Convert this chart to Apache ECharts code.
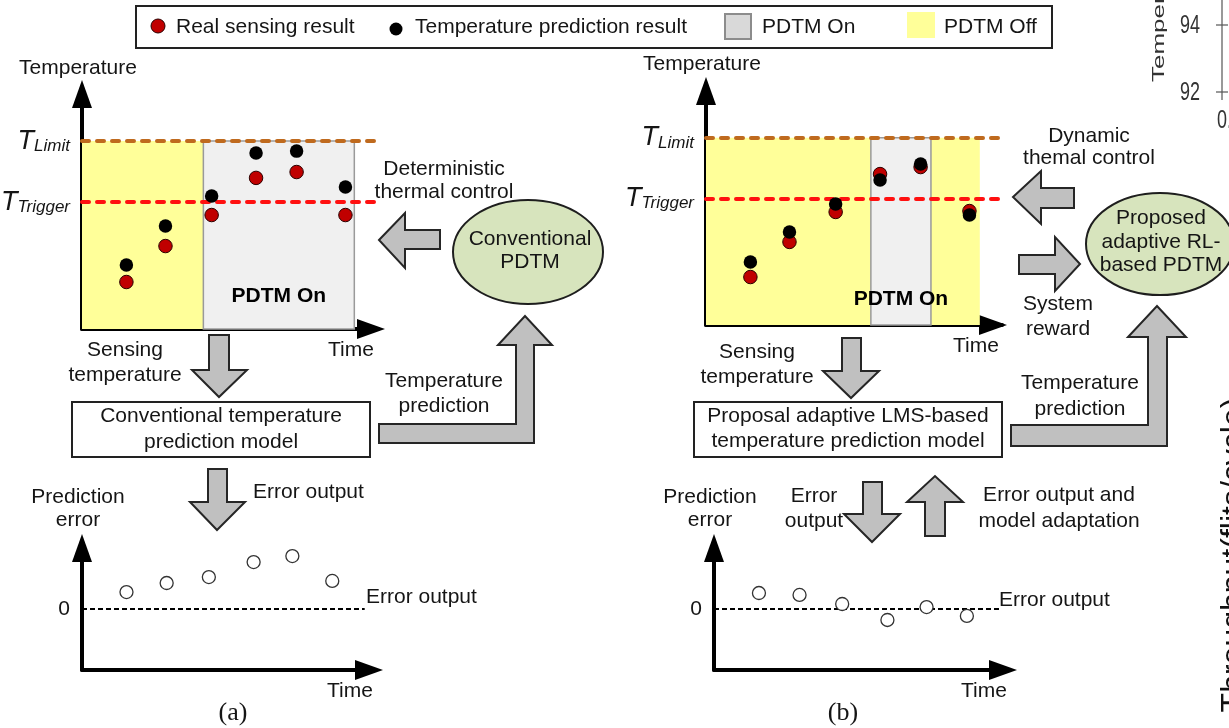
<!DOCTYPE html>
<html>
<head>
<meta charset="utf-8">
<script src="https://cdn.jsdelivr.net/npm/echarts@6.0.0/dist/echarts.min.js"></script>
<style>
  html, body { margin: 0; padding: 0; background: #fff; }
  #chart { width: 1229px; height: 728px; }
</style>
</head>
<body>
<div id="chart"></div>
<script>
  // sample instants on the time axis (0..10) of the temperature plots
  const sampleTimes = [1.5, 2.82, 4.38, 5.88, 7.25, 8.9];
  // (a) conventional model
  const realSensingA = [20, 35.3, 48.5, 64.3, 66.8, 48.5];
  const predictionA = [27.2, 43.8, 56.6, 74.9, 75.7, 60.4];
  // (b) adaptive LMS model
  const realSensingB = [20.5, 35.5, 48.3, 64.5, 67.5, 48.7];
  const predictionB = [26.9, 39.7, 51.7, 62, 68.8, 47];

  const T_LIMIT = 80;
  const T_TRIGGER = 54;

  // PDTM state intervals [from, to] on the time axis
  const pdtmOffA = [[0, 4.1]];
  const pdtmOnA = [[4.1, 9.2]];
  const pdtmOffB = [[0, 5.57], [7.6, 9.25]];
  const pdtmOnB = [[5.57, 7.6]];

  // prediction error plots
  const errorTimes = [1.55, 2.95, 4.42, 5.98, 7.33, 8.72];
  const errorA = [1.39, 2.13, 2.62, 3.85, 4.34, 2.3];
  const errorB = [1.31, 1.15, 0.41, -0.9, 0.16, -0.57];
  const ZERO_END = 9.85;

  const FONT = '"Liberation Sans", Arial, sans-serif';
  const INK = '#151515';

  const chart = echarts.init(document.getElementById('chart'));

  const pairs = (xs, ys) => xs.map((x, i) => [x, ys[i]]);

  const arrowLine = (offset) => ({
    show: true,
    onZero: false,
    lineStyle: { color: '#000', width: 4 },
    symbol: ['none', 'triangle'],
    symbolSize: [20, 28],
    symbolOffset: [0, offset],
  });

  const timeAxis = (gridIndex, offset) => ({
    type: 'value',
    gridIndex,
    min: 0,
    max: 10,
    axisLine: arrowLine(offset),
    axisTick: { show: false },
    axisLabel: { show: false },
    splitLine: { show: false },
  });

  const limitLabel = (v) => (v === T_LIMIT ? '{t|T}{s|Limit}' : '{t|T}{s|Trigger}');

  const tempAxis = (gridIndex, gap) => ({
    type: 'value',
    gridIndex,
    min: 0,
    max: 100,
    name: 'Temperature',
    nameLocation: 'end',
    nameGap: gap,
    nameTextStyle: { color: INK, fontSize: 21, fontFamily: FONT, padding: [0, 8, 0, 0] },
    axisLine: arrowLine(0),
    axisTick: { show: false },
    splitLine: { show: false },
    axisLabel: {
      show: true,
      customValues: [T_TRIGGER, T_LIMIT],
      margin: 12,
      formatter: limitLabel,
      rich: {
        t: { fontSize: 27, fontStyle: 'italic', fontFamily: FONT, color: INK, verticalAlign: 'bottom' },
        s: { fontSize: 17, fontStyle: 'italic', fontFamily: FONT, color: INK, verticalAlign: 'bottom' },
      },
    },
  });

  const errAxis = (gridIndex) => ({
    type: 'value',
    gridIndex,
    min: -5,
    max: 5,
    interval: 5,
    name: 'Prediction\nerror',
    nameLocation: 'end',
    nameGap: 16,
    nameTextStyle: { color: INK, fontSize: 21, lineHeight: 23, fontFamily: FONT, padding: [0, 8, 0, 0] },
    axisLine: arrowLine(0),
    axisTick: { show: false },
    splitLine: { show: false },
    axisLabel: { show: true, customValues: [0], margin: 12, color: INK, fontSize: 21, fontFamily: FONT },
  });

  const offStyle = { color: '#ffff99' };
  const onStyle = { color: '#f0f0f0', borderColor: '#9a9a9a', borderWidth: 1.5 };

  const bands = (offs, ons, labelGap) => ({
    silent: true,
    z: 1,
    data: [
      ...offs.map(([a, b]) => [
        { xAxis: a, yAxis: 0, itemStyle: offStyle, label: { show: false } },
        { xAxis: b, yAxis: T_LIMIT },
      ]),
      ...ons.map(([a, b]) => [
        {
          name: 'PDTM On',
          xAxis: a,
          yAxis: 0,
          itemStyle: onStyle,
          label: {
            show: true,
            position: 'insideBottom',
            distance: labelGap,
            color: '#000',
            fontWeight: 'bold',
            fontSize: 21,
            fontFamily: FONT,
          },
        },
        { xAxis: b, yAxis: T_LIMIT },
      ]),
    ],
  });

  const limitLines = {
    silent: true,
    z: 1.5,
    symbol: ['none', 'none'],
    label: { show: false },
    data: [
      { yAxis: T_LIMIT, lineStyle: { color: '#bf6a1e', width: 4, type: [7, 8], cap: 'round' } },
      { yAxis: T_TRIGGER, lineStyle: { color: '#ff1010', width: 4, type: [7, 8], cap: 'round' } },
    ],
  };

  const zeroLine = {
    silent: true,
    z: 1.5,
    symbol: ['none', 'none'],
    label: { show: false },
    lineStyle: { color: '#000', width: 2, type: [5, 3] },
    data: [[{ coord: [0, 0] }, { coord: [ZERO_END, 0] }]],
  };

  const realStyle = { color: '#c00000', borderColor: '#2a0000', borderWidth: 1, opacity: 1 };
  const predStyle = { color: '#000', opacity: 1 };
  const errStyle = { color: '#fff', borderColor: '#333', borderWidth: 1.3, opacity: 1 };

  const txt = (text, x, y, extra = {}) => ({
    type: 'text',
    z: 50,
    style: Object.assign(
      { text, x, y, fill: INK, font: `21px ${FONT}`, align: 'center', verticalAlign: 'middle', lineHeight: 25 },
      extra,
    ),
  });

  const blockArrow = (points) => ({
    type: 'polygon',
    z: 40,
    shape: { points },
    style: { fill: '#c0c0c0', stroke: '#262626', lineWidth: 2 },
  });

  const box = (x, y, width, height) => ({
    type: 'rect',
    z: 40,
    shape: { x, y, width, height },
    style: { fill: '#fff', stroke: '#222', lineWidth: 2 },
  });

  const ellipse = (cx, cy, rx, ry) => ({
    type: 'ellipse',
    z: 40,
    shape: { cx, cy, rx, ry },
    style: { fill: '#d7e4bd', stroke: '#1e1e1e', lineWidth: 2 },
  });

  const graphics = [
    // legend
    { type: 'rect', z: 40, shape: { x: 136, y: 6, width: 916, height: 42 }, style: { fill: '#fff', stroke: '#222', lineWidth: 2 } },
    { type: 'circle', z: 45, shape: { cx: 158, cy: 26, r: 7 }, style: { fill: '#c00000', stroke: '#2a0000', lineWidth: 1 } },
    txt('Real sensing result', 176, 27, { align: 'left' }),
    { type: 'circle', z: 45, shape: { cx: 396, cy: 29, r: 6.5 }, style: { fill: '#000' } },
    txt('Temperature prediction result', 415, 27, { align: 'left' }),
    { type: 'rect', z: 45, shape: { x: 725, y: 14, width: 26, height: 25 }, style: { fill: '#d9d9d9', stroke: '#8c8c8c', lineWidth: 2 } },
    txt('PDTM On', 762, 27, { align: 'left' }),
    { type: 'rect', z: 45, shape: { x: 907, y: 12, width: 28, height: 26 }, style: { fill: '#ffff99' } },
    txt('PDTM Off', 944, 27, { align: 'left' }),

    // panel (a)
    txt('Deterministic\nthermal control', 444, 181, { lineHeight: 23 }),
    blockArrow([[379, 240], [405, 213], [405, 230], [440, 230], [440, 249], [405, 249], [405, 268]]),
    ellipse(528, 252, 75, 52),
    txt('Conventional\nPDTM', 530, 251, { lineHeight: 23 }),
    txt('Time', 351, 350),
    txt('Sensing\ntemperature', 125, 363),
    blockArrow([[209, 335], [229, 335], [229, 370], [247, 370], [219, 397], [192, 370], [209, 370]]),
    box(72, 402, 298, 55),
    txt('Conventional temperature\nprediction model', 221, 429, { lineHeight: 26 }),
    blockArrow([[379, 424], [516, 424], [516, 345], [498, 345], [525, 316], [552, 345], [534, 345], [534, 443], [379, 443]]),
    txt('Temperature\nprediction', 444, 394),
    blockArrow([[208, 469], [227, 469], [227, 502], [245, 502], [217, 530], [190, 502], [208, 502]]),
    txt('Error output', 253, 492, { align: 'left' }),
    txt('Error output', 366, 597, { align: 'left' }),
    txt('Time', 350, 691),
    txt('(a)', 233, 713, { font: `26px "Liberation Serif", "Times New Roman", serif` }),

    // panel (b)
    txt('Dynamic\nthemal control', 1089, 147, { lineHeight: 22 }),
    blockArrow([[1013, 197], [1041, 171], [1041, 188], [1074, 188], [1074, 208], [1041, 208], [1041, 224]]),
    blockArrow([[1019, 255], [1055, 255], [1055, 237], [1080, 264], [1055, 291], [1055, 274], [1019, 274]]),
    txt('System\nreward', 1058, 317),
    ellipse(1160, 244, 74, 51),
    txt('Proposed\nadaptive RL-\nbased PDTM', 1161, 242, { lineHeight: 23.5 }),
    txt('Time', 976, 346),
    txt('Sensing\ntemperature', 757, 365),
    blockArrow([[842, 338], [861, 338], [861, 371], [879, 371], [851, 398], [823, 371], [842, 371]]),
    box(694, 402, 308, 55),
    txt('Proposal adaptive LMS-based\ntemperature prediction model', 848, 428.5),
    blockArrow([[1011, 425], [1148, 425], [1148, 337], [1128, 337], [1157, 306], [1186, 337], [1167, 337], [1167, 446], [1011, 446]]),
    txt('Temperature\nprediction', 1080, 396, { lineHeight: 26 }),
    blockArrow([[863, 482], [882, 482], [882, 514], [900, 514], [872, 542], [844, 514], [863, 514]]),
    blockArrow([[925, 536], [945, 536], [945, 502], [963, 502], [935, 476], [907, 502], [925, 502]]),
    txt('Error\noutput', 814, 509),
    txt('Error output and\nmodel adaptation', 1059, 508, { lineHeight: 26 }),
    txt('Error output', 999, 600, { align: 'left' }),
    txt('Time', 984, 691),
    txt('(b)', 843, 713, { font: `26px "Liberation Serif", "Times New Roman", serif` }),

    // cropped neighbouring figure at the right edge
    { type: 'text', z: 30, x: 1160, y: 82, rotation: Math.PI / 2, scaleY: 0.6,
      style: { text: 'Temperature', x: 0, y: 0, fill: '#333', font: `26px ${FONT}`, align: 'left', verticalAlign: 'middle' } },
    { type: 'text', z: 30, x: 1190, y: 26, scaleX: 0.72,
      style: { text: '94', x: 0, y: 0, fill: '#333', font: `25px ${FONT}`, align: 'center', verticalAlign: 'middle' } },
    { type: 'text', z: 30, x: 1190, y: 93, scaleX: 0.72,
      style: { text: '92', x: 0, y: 0, fill: '#333', font: `25px ${FONT}`, align: 'center', verticalAlign: 'middle' } },
    { type: 'text', z: 30, x: 1217, y: 121, scaleX: 0.72,
      style: { text: '0.', x: 0, y: 0, fill: '#333', font: `25px ${FONT}`, align: 'left', verticalAlign: 'middle' } },
    { type: 'line', z: 30, shape: { x1: 1222, y1: 0, x2: 1222, y2: 100 }, style: { stroke: '#555', lineWidth: 1.2 } },
    { type: 'line', z: 30, shape: { x1: 1216, y1: 25, x2: 1228, y2: 25 }, style: { stroke: '#555', lineWidth: 1.2 } },
    { type: 'line', z: 30, shape: { x1: 1216, y1: 92, x2: 1228, y2: 92 }, style: { stroke: '#555', lineWidth: 1.2 } },
    { type: 'text', z: 30, x: 1218, y: 555, rotation: Math.PI / 2,
      style: { text: 'Throughput(flits/cycle)', x: 0, y: 0, fill: '#111', font: `32px ${FONT}`, align: 'center', verticalAlign: 'top' } },
  ];

  chart.setOption({
    animation: false,
    grid: [
      { left: 82, top: 94, width: 296, height: 235, outerBoundsMode: 'none' },
      { left: 706, top: 91, width: 296, height: 234, outerBoundsMode: 'none' },
      { left: 82, top: 548, width: 287, height: 122, outerBoundsMode: 'none' },
      { left: 714, top: 548, width: 290, height: 122, outerBoundsMode: 'none' },
    ],
    xAxis: [timeAxis(0, -7), timeAxis(1, -9), timeAxis(2, 0), timeAxis(3, -1)],
    yAxis: [tempAxis(0, 15), tempAxis(1, 16), errAxis(2), errAxis(3)],
    series: [
      {
        type: 'scatter', name: 'Real sensing result', xAxisIndex: 0, yAxisIndex: 0, silent: true, z: 2,
        symbolSize: 13.5, itemStyle: realStyle, data: pairs(sampleTimes, realSensingA),
        markArea: bands(pdtmOffA, pdtmOnA, 23), markLine: limitLines,
      },
      {
        type: 'scatter', name: 'Temperature prediction result', xAxisIndex: 0, yAxisIndex: 0, silent: true, z: 3,
        symbolSize: 13.5, itemStyle: predStyle, data: pairs(sampleTimes, predictionA),
      },
      {
        type: 'scatter', name: 'Real sensing result', xAxisIndex: 1, yAxisIndex: 1, silent: true, z: 2,
        symbolSize: 13.5, itemStyle: realStyle, data: pairs(sampleTimes, realSensingB),
        markArea: bands(pdtmOffB, pdtmOnB, 16), markLine: limitLines,
      },
      {
        type: 'scatter', name: 'Temperature prediction result', xAxisIndex: 1, yAxisIndex: 1, silent: true, z: 3,
        symbolSize: 13.5, itemStyle: predStyle, data: pairs(sampleTimes, predictionB),
      },
      {
        type: 'scatter', name: 'Prediction error (a)', xAxisIndex: 2, yAxisIndex: 2, silent: true, z: 2,
        symbolSize: 13, itemStyle: errStyle, data: pairs(errorTimes, errorA), markLine: zeroLine,
      },
      {
        type: 'scatter', name: 'Prediction error (b)', xAxisIndex: 3, yAxisIndex: 3, silent: true, z: 2,
        symbolSize: 13, itemStyle: errStyle, data: pairs(errorTimes, errorB), markLine: zeroLine,
      },
    ],
    graphic: { elements: graphics },
  });
</script>
</body>
</html>
